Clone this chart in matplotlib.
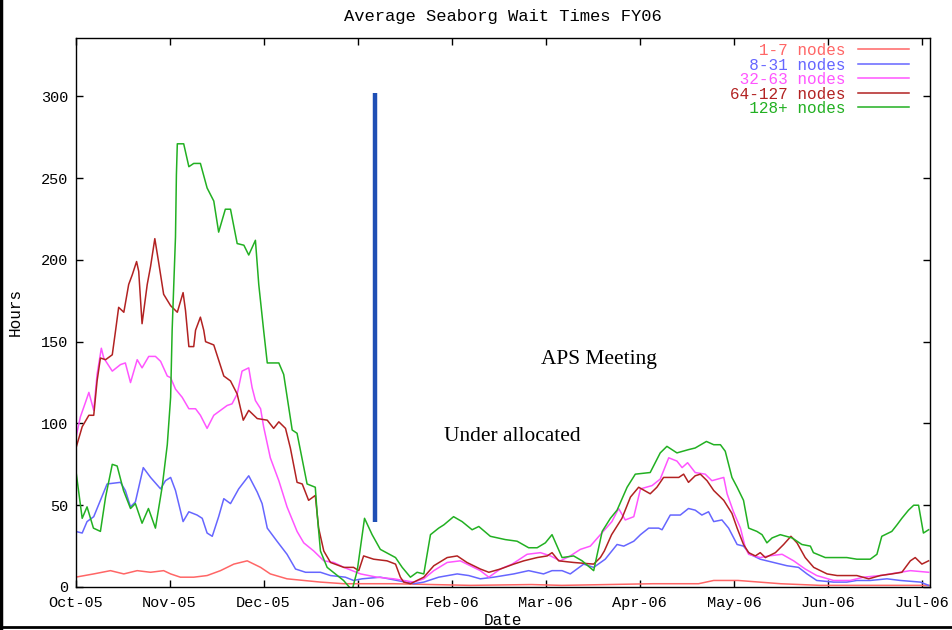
import matplotlib
matplotlib.use('Agg')
import matplotlib.pyplot as plt
from matplotlib.lines import Line2D
import numpy as np

# x values are days after the start of FY06 (Oct-05)
months = ['Oct-05', 'Nov-05', 'Dec-05', 'Jan-06', 'Feb-06', 'Mar-06',
          'Apr-06', 'May-06', 'Jun-06', 'Jul-06']
labels = ['1-7 nodes', '8-31 nodes', '32-63 nodes', '64-127 nodes', '128+ nodes']

d_1_7 = [0, 6.0, 11.5, 15.9, 20.3, 24.7, 29.0, 31.3, 34.5, 38.9, 43.3, 47.7, 52.1, 56.5,
         60.9, 64.1, 69.6, 75.1, 80.6, 88.3, 104.7, 130, 150, 160, 175, 190, 205, 210,
         218, 225, 232, 245, 260, 275, 281]
v_1_7 = [6, 8, 10, 8, 10, 9, 10, 8, 6, 6, 7, 10, 14, 16,
         12, 8, 5, 4, 3, 2, 2, 1, 1.5, 1, 1.5, 2, 2, 4,
         4, 3, 2, 1, 1, 1, 1]

d_8_31 = [0, 2.2, 3.8, 6.0, 8.2, 10.4, 14.8, 16.4, 18.1, 19.7, 22.3, 24.7, 28.0, 29.6,
          31.3, 32.9, 35.4, 37.3, 40.0, 41.7, 43.3, 45.0, 47.1, 48.8, 51.0, 53.7, 57.0,
          59.8, 61.4, 63.1, 66.3, 69.6, 72.4, 75.7, 80.6, 83.9, 88.8, 91.5, 94.3, 100.3,
          105.8, 111.3, 114.6, 119.5, 125.6, 129.4, 133.2, 137.6, 144.2, 149.1, 154.0,
          156.8, 160.1, 162.8, 167.2, 170.5, 174.3, 178.2, 180.4, 183.7, 185.9, 188.6,
          191.9, 193.0, 195.7, 199.0, 201.7, 203.9, 206.1, 208.3, 210.0, 212.7, 214.9,
          217.7, 219.8, 222.0, 225.3, 229.7, 234.1, 237.9, 240.7, 243.9, 249.4, 253.8,
          257.1, 261.5, 267.0, 271.4, 278.0, 280.7]
v_8_31 = [34, 33, 40, 43, 53, 63, 64, 59, 49, 52, 73, 67, 60, 65,
          67, 59, 40, 46, 44, 42, 33, 31, 43, 54, 51, 60, 68,
          58, 51, 36, 28, 20, 11, 9, 9, 7, 6, 4, 5, 6,
          4, 2, 3, 6, 8, 7, 5, 6, 8, 10, 8,
          10, 10, 8, 14, 12, 17, 26, 25, 28, 32, 36,
          36, 35, 44, 44, 48, 47, 44, 46, 40, 41, 36,
          26, 25, 20, 17, 15, 13, 12, 8, 4, 3, 3,
          4, 4, 5, 4, 3, 1]

d_32_63 = [0, 1.6, 3.3, 4.4, 6.0, 7.1, 8.5, 9.3, 12.1, 14.8, 16.4, 18.1, 20.3, 21.9,
           24.1, 26.3, 28.0, 30.2, 31.3, 32.9, 35.1, 37.3, 39.5, 41.1, 43.3, 45.5, 47.7,
           49.9, 51.5, 53.2, 54.8, 57.0, 58.1, 59.2, 60.9, 61.9, 64.1, 66.9, 69.6, 72.9,
           75.1, 78.4, 81.7, 85.0, 88.3, 93.8, 99.2, 104.7, 111.3, 114.6, 117.9, 122.3,
           126.6, 129.9, 133.2, 136.0, 139.8, 143.7, 148.6, 153.0, 156.3, 159.5, 162.8,
           166.1, 169.4, 172.7, 176.5, 178.7, 180.9, 183.7, 185.9, 189.7, 192.4, 195.2,
           197.9, 199.6, 201.4, 203.9, 207.2, 209.4, 213.3, 214.4, 216.5, 218.8, 220.4,
           221.5, 225.3, 228.1, 232.5, 236.3, 240.1, 243.9, 249.4, 254.9, 259.3, 264.8,
           271.4, 274.7, 280.7]
v_32_63 = [90, 104, 113, 119, 108, 130, 146, 140, 132, 136, 137, 125, 139, 134,
           141, 141, 138, 129, 128, 121, 116, 109, 109, 105, 97, 105, 108,
           111, 112, 118, 132, 134, 122, 114, 109, 98, 79, 65, 49, 34,
           27, 22, 16, 15, 12, 8, 6, 5, 3, 5, 10, 15,
           16, 13, 10, 6, 11, 14, 20, 21, 19, 16, 19,
           23, 25, 32, 40, 48, 41, 43, 60, 62, 66, 79,
           77, 73, 76, 70, 69, 65, 67, 57, 46, 36, 24,
           20, 18, 19, 20, 16, 11, 7, 4, 4, 6, 7,
           9, 10, 9]

d_64_127 = [0, 2.2, 4.4, 6.0, 7.1, 8.2, 9.9, 12.1, 13.2, 14.2, 15.9, 17.5, 18.7, 20.1,
            20.8, 21.9, 23.6, 24.7, 26.1, 27.4, 29.0, 31.3, 33.5, 35.4, 36.2, 37.3, 38.9,
            39.5, 41.1, 42.2, 42.8, 45.5, 48.8, 51.0, 53.2, 55.2, 57.0, 59.8, 63.1, 65.2,
            66.9, 69.1, 70.7, 72.9, 74.6, 76.7, 78.9, 80.0, 81.7, 83.9, 88.3, 91.5, 93.2,
            94.8, 98.1, 102.5, 105.3, 106.9, 108.0, 110.2, 114.6, 117.9, 122.3, 125.6,
            128.8, 133.2, 136.0, 139.8, 144.2, 147.5, 151.9, 155.2, 156.8, 159.0, 163.9,
            170.5, 172.7, 174.0, 176.4, 179.8, 182.6, 185.3, 189.1, 191.3, 193.5, 198.5,
            200.1, 201.7, 203.9, 205.6, 207.8, 210.0, 213.3, 216.0, 217.7, 219.8, 221.5,
            223.7, 225.3, 227.0, 230.3, 233.0, 235.4, 237.4, 240.1, 242.9, 247.3, 250.6,
            257.1, 261.0, 264.8, 268.6, 271.9, 274.7, 276.3, 278.5, 280.7]
v_64_127 = [84, 98, 105, 105, 126, 140, 139, 142, 157, 171, 168, 185, 191, 199,
            193, 161, 185, 196, 213, 198, 179, 172, 168, 180, 169, 147, 147,
            157, 165, 157, 150, 148, 129, 126, 118, 102, 108, 103, 102, 97,
            101, 97, 85, 64, 63, 53, 56, 36, 22, 15, 12, 12, 10,
            19, 17, 16, 14, 6, 3, 2, 6, 13, 18, 19,
            15, 11, 9, 11, 14, 16, 18, 19, 21, 16, 15,
            14, 18, 22, 32, 42, 55, 61, 57, 61, 67, 67,
            69, 64, 68, 69, 65, 59, 53, 45, 36, 26, 21,
            19, 21, 18, 21, 26, 31, 27, 18, 12, 8, 7,
            7, 5, 7, 8, 9, 16, 18, 14, 16]

d_128 = [0, 2.2, 3.8, 5.9, 8.2, 9.9, 12.1, 13.7, 15.8, 18.1, 19.7, 21.9, 24.0, 26.3,
         28.5, 30.2, 31.3, 31.8, 32.9, 33.2, 33.5, 35.6, 37.3, 38.9, 41.1, 43.3, 45.5,
         47.1, 49.3, 51.0, 53.2, 55.4, 57.0, 59.2, 60.3, 61.9, 63.1, 66.9, 68.5, 71.3,
         72.9, 76.2, 78.9, 79.5, 80.6, 82.8, 88.2, 91.0, 92.7, 95.1, 97.6, 100.3, 105.3,
         107.5, 110.2, 112.4, 114.6, 116.8, 119.5, 121.2, 124.4, 127.2, 130.5, 132.7,
         136.5, 141.4, 145.3, 149.1, 151.9, 154.6, 156.8, 160.1, 163.9, 166.7, 170.5,
         173.3, 176.0, 178.2, 181.5, 184.2, 189.1, 192.4, 194.6, 197.9, 201.7, 203.9,
         207.6, 210.0, 212.2, 213.8, 216.0, 217.7, 219.8, 221.5, 224.2, 225.9, 227.5,
         229.2, 231.9, 235.8, 239.0, 241.8, 242.8, 246.7, 253.8, 257.1, 261.5, 263.7,
         265.3, 268.6, 270.3, 271.9, 274.1, 275.8, 277.4, 279.0, 280.7]
v_128 = [73, 42, 49, 36, 34, 55, 75, 74, 59, 48, 51, 39, 48, 36,
         61, 87, 116, 157, 214, 252, 271, 271, 257, 259, 259, 244, 236,
         217, 231, 231, 210, 209, 203, 212, 185, 157, 137, 137, 130, 96,
         94, 63, 61, 45, 22, 12, 4, -2, 10, 42, 32, 23, 18,
         12, 6, 9, 8, 32, 36, 38, 43, 40, 35, 37,
         31, 29, 28, 24, 24, 27, 32, 18, 19, 16, 10,
         34, 42, 47, 61, 69, 70, 82, 86, 82, 84, 85,
         89, 87, 87, 83, 67, 61, 53, 36, 34, 32, 27,
         30, 32, 30, 26, 25, 21, 18, 18, 17, 17, 20,
         31, 34, 38, 42, 47, 50, 50, 33, 35]

# APS Meeting marker
event_day = 98.7
event_span = (40, 302)

colors = ['#ff6666', '#6666ff', '#ff55ff', '#b22222', '#22b022']
series = [(d_1_7, v_1_7), (d_8_31, v_8_31), (d_32_63, v_32_63),
          (d_64_127, v_64_127), (d_128, v_128)]

mono = 'Liberation Mono'
fs = 11.5
fig = plt.figure(figsize=(9.52, 6.30), dpi=100)
ax = fig.add_axes([75.5 / 952, 1 - 587 / 630, 854 / 952, (587 - 37.5) / 630])

width = max(len(s) for s in labels)
for (d, v), c, lab in zip(series, colors, labels):
    ax.plot(d, v, color=c, lw=1.1, label=lab.rjust(width))

ax.plot([event_day, event_day], event_span, color='#1f4fb5', lw=3.2, solid_capstyle='butt')
ax.text(153.3, 139, 'APS Meeting', family='Liberation Serif', fontsize=15.4, va='center')
ax.text(121.4, 92, 'Under allocated', family='Liberation Serif', fontsize=15.4, va='center')

tick_step = 30.95
ax.set_xlim(0, 281)
ax.set_ylim(0, 336)
ax.set_xticks(np.arange(len(months)) * tick_step)
ax.set_xticklabels(months)
ax.set_yticks(np.arange(0, 301, 50))
ax.tick_params(direction='in', length=5, width=1, top=True, right=True, labelsize=11)
ax.tick_params(axis='x', pad=6.5)
ax.tick_params(axis='y', pad=5)
for t in ax.get_xticklabels() + ax.get_yticklabels():
    t.set_family(mono)
for s in ax.spines.values():
    s.set_linewidth(1)

ax.set_title('Average Seaborg Wait Times FY06', family=mono, fontsize=12.3, pad=12)
ax.set_xlabel('Date', family=mono, fontsize=fs, labelpad=2)
ax.set_ylabel('Hours', family=mono, fontsize=fs, labelpad=13)

ax.legend(loc='upper right', bbox_to_anchor=(909 / 952, 1 - 43 / 630),
          bbox_transform=fig.transFigure, frameon=False, markerfirst=False,
          labelcolor='linecolor', prop={'family': mono, 'size': fs},
          handlelength=3.2, handletextpad=0.8, labelspacing=-0.03, borderpad=0,
          borderaxespad=0)

# frame lines at the left and bottom of the picture
fig.add_artist(Line2D([0.001, 0.001], [0, 1], color='black', lw=2.5, transform=fig.transFigure))
fig.add_artist(Line2D([0, 1], [0.005, 0.005], color='black', lw=2.0, transform=fig.transFigure))

fig.savefig('out.png', dpi=100)
